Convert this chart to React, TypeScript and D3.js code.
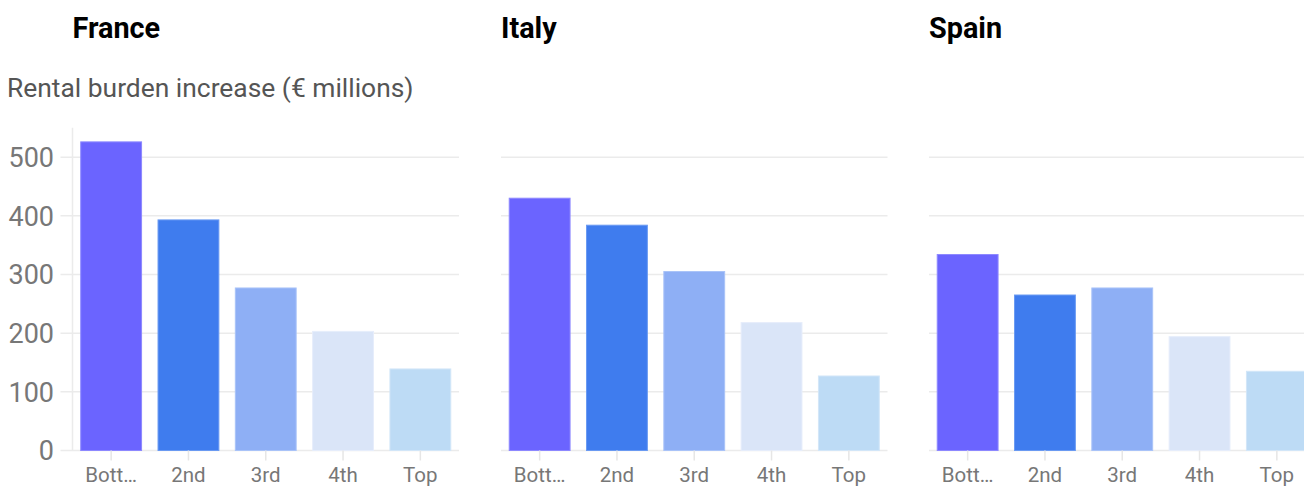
import React from "react";
import * as d3 from "d3";

const countries = ["France", "Italy", "Spain"];
const quintiles = ["Bottom", "2nd", "3rd", "4th", "Top"];
const tickLabels = ["Bott…", "2nd", "3rd", "4th", "Top"];
const franceValues = [526, 393, 277, 203, 139];
const italyValues = [430, 384, 305, 218, 127];
const spainValues = [334, 265, 277, 194, 135];
const yTicks = [0, 100, 200, 300, 400, 500];
const colors = ["#6b64ff", "#3f7cee", "#8eaff5", "#dae5f8", "#bddbf5"];
const strokes = ["#8d88ff", "#6a9af2", "#a9c3f8", "#e6edfb", "#d2e6f8"];

const seriesByCountry = [franceValues, italyValues, spainValues];

const W = 1304;
const H = 486;
const panelLefts = [72.5, 501, 929];
const panelWidth = 386.5;

export default function App() {
  const y = d3.scaleLinear().domain([0, 550]).range([450.5, 127.8]);
  const font = "Roboto, 'Noto Sans', sans-serif";
  return (
    <svg
      width={W}
      height={H}
      style={{ position: "absolute", left: 0, top: 0, background: "#fff" }}
      fontFamily={font}
    >
      <text x={7} y={97} fontSize={26.4} fill="#555">
        Rental burden increase (€ millions)
      </text>
      {countries.map((c, ci) => {
        const left = panelLefts[ci];
        const x = d3
          .scaleBand<string>()
          .domain(quintiles)
          .range([left, left + panelWidth])
          .paddingInner(0.2)
          .paddingOuter(0.1);
        const vals = seriesByCountry[ci];
        const gridStart = ci === 0 ? left - 12 : left;
        return (
          <g key={c}>
            <text x={left} y={37.5} fontSize={28.8} fontWeight="bold" fill="#000">
              {c}
            </text>
            {yTicks.map((t) => (
              <line
                key={t}
                x1={gridStart}
                x2={left + panelWidth}
                y1={y(t)}
                y2={y(t)}
                stroke="#ebebeb"
                strokeWidth={1.5}
              />
            ))}
            {ci === 0 && (
              <g>
                <line x1={left} x2={left} y1={y(550)} y2={y(0)} stroke="#ebebeb" strokeWidth={1.5} />
                {yTicks.map((t) => (
                  <text
                    key={t}
                    x={54}
                    y={y(t)}
                    dy="0.36em"
                    textAnchor="end"
                    fontSize={27}
                    fill="#777"
                  >
                    {t}
                  </text>
                ))}
              </g>
            )}
            {quintiles.map((q, i) => (
              <rect
                key={q}
                x={x(q)! + 0.5}
                y={y(vals[i])}
                width={x.bandwidth() - 1}
                height={y(0) - y(vals[i])}
                fill={colors[i]}
                stroke={strokes[i]}
                strokeWidth={1}
              />
            ))}
            {quintiles.map((q, i) => {
              const cx = x(q)! + x.bandwidth() / 2;
              return (
                <g key={q}>
                  <line x1={cx} x2={cx} y1={y(0)} y2={y(0) + 10} stroke="#e6e6e6" strokeWidth={1.5} />
                  <text x={cx} y={482} textAnchor="middle" fontSize={20.5} fill="#777">
                    {tickLabels[i]}
                  </text>
                </g>
              );
            })}
          </g>
        );
      })}
    </svg>
  );
}
